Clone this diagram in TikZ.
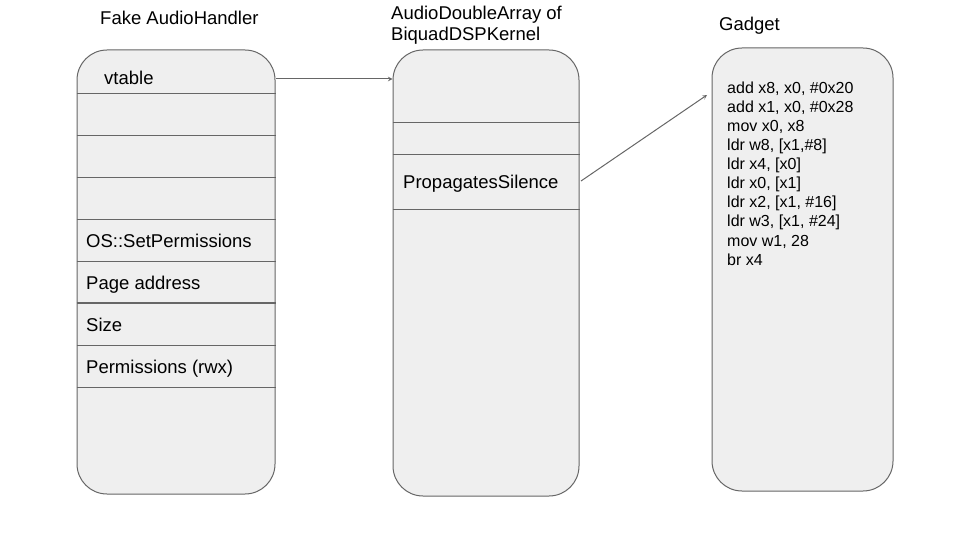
\documentclass[tikz,border=0pt]{standalone}
\usepackage{fontspec}
\setmainfont{Liberation Sans}
\usepackage{xcolor}
\usepackage{tikz}
\definecolor{boxfill}{HTML}{EFEFEF}
\definecolor{boxline}{HTML}{666666}

\begin{document}
\begin{tikzpicture}[
	x=1pt, y=-1pt,
	every node/.style={font=\fontsize{18.5}{21}\selectfont, inner sep=0pt},
	memnode/.style={shape=rectangle, rounded corners=30pt, fill=boxfill, draw=boxline, line width=1pt},
	rowline/.style={draw=boxline, line width=1pt},
	rowtext/.style={anchor=base west},
	ptrarrow/.style={draw=boxline, line width=1pt, ->, >=stealth},
	codetext/.style={anchor=north west, align=left, font=\fontsize{16}{19.1}\selectfont},
]
\useasboundingbox (0,0) rectangle (960,540);

% titles
\node[anchor=base west] (t_handler) at (100,24.5) {Fake AudioHandler};
\node[anchor=base west, align=left] (t_array) at (391,41) {AudioDoubleArray of\\BiquadDSPKernel};
\node[anchor=base west] (t_gadget) at (719,30.5) {Gadget};

% memory blocks
\node[memnode, minimum width=198pt, minimum height=444pt] (handler) at (176,272) {};
\node[memnode, minimum width=186pt, minimum height=446pt] (array) at (486,273) {};
\node[memnode, minimum width=181pt, minimum height=443pt] (gadget) at (802.5,269.5) {};

% rows
\foreach \y in {94,136,178,219,261,345,387}
	\draw[rowline] (handler.west |- 0,\y) -- (handler.east |- 0,\y);
\draw[rowline, line width=1.6pt] (handler.west |- 0,303) -- (handler.east |- 0,303);
\foreach \y in {123,155,209}
	\draw[rowline] (array.west |- 0,\y) -- (array.east |- 0,\y);

% row labels
\node[rowtext] (vtable) at (104,85) {vtable};
\node[rowtext] (setperm) at (86,247.5) {OS::SetPermissions};
\node[rowtext] (pageaddr) at (86,289) {Page address};
\node[rowtext] (size) at (86,331) {Size};
\node[rowtext] (perms) at (86,373) {Permissions (rwx)};
\node[rowtext] (silence) at (403,188.5) {PropagatesSilence};

\node[codetext] (code) at (727,81.5) {add x8, x0, \#0x20\\add x1, x0, \#0x28\\mov x0, x8\\ldr w8, [x1,\#8]\\ldr x4, [x0]\\ldr x0, [x1]\\ldr x2, [x1, \#16]\\ldr w3, [x1, \#24]\\mov w1, 28\\br x4};

% pointers
\coordinate (ptrout) at (579,181);
\coordinate (gadgetin) at (707,95);
\draw[ptrarrow] ([yshift=6pt]vtable.base -| handler.east) -- ([yshift=6pt]vtable.base -| array.west);
\draw[ptrarrow] ([xshift=2pt]ptrout) -- (gadgetin);
\end{tikzpicture}
\end{document}
